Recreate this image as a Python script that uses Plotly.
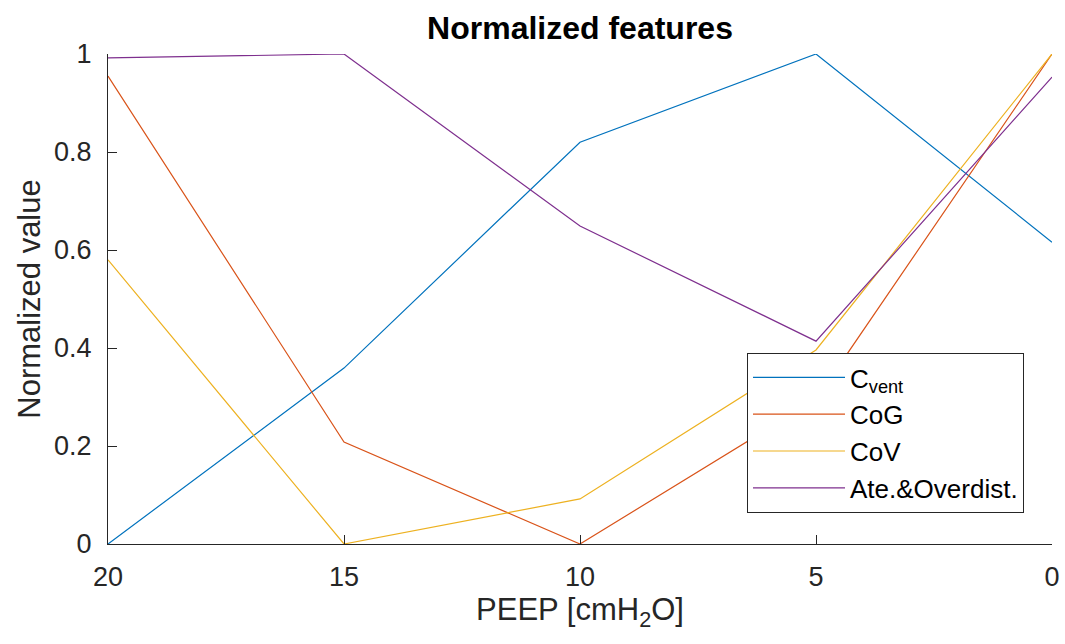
import plotly.graph_objects as go

peep = [20, 15, 10, 5, 0]
c_vent = [0.0, 0.359, 0.820, 1.0, 0.616]
cog = [0.955, 0.208, 0.0, 0.295, 1.0]
cov = [0.580, 0.0, 0.092, 0.396, 1.0]
ate_overdist = [0.992, 1.0, 0.649, 0.414, 0.953]

names = ["C<sub>vent</sub>", "CoG", "CoV", "Ate.&Overdist."]
colors = ["#0072BD", "#D95319", "#EDB120", "#7E2F8E"]
series = [c_vent, cog, cov, ate_overdist]

x_ticks = [20, 15, 10, 5, 0]
y_ticks = [0, 0.2, 0.4, 0.6, 0.8, 1]
y_tick_text = ["0", "0.2", "0.4", "0.6", "0.8", "1"]

fig = go.Figure()
for name, col, ys in zip(names, colors, series):
    fig.add_trace(go.Scatter(x=peep, y=ys, mode="lines", name=name,
                             line=dict(color=col, width=1.2)))

font_family = "Liberation Sans, Arial, Helvetica, sans-serif"
axis_common = dict(showline=True, linecolor="#262626", linewidth=1,
                   ticks="inside", ticklen=9, tickcolor="#262626",
                   showgrid=False, zeroline=False, mirror=False, automargin=False,
                   tickfont=dict(size=27, color="#262626", family=font_family))

fig.update_layout(
    width=1065, height=644,
    margin=dict(l=108, r=13, t=54, b=100),
    paper_bgcolor="white", plot_bgcolor="white",
    font=dict(family=font_family, color="#262626"),
    title=dict(text="<b>Normalized features</b>", x=(580 / 1065), xanchor="center",
               y=1 - 28 / 644, yanchor="middle",
               font=dict(size=32, color="black", family=font_family)),
    xaxis=dict(range=[20, 0], tickvals=x_ticks, ticktext=[str(v) for v in x_ticks],
               ticklabelstandoff=9,
               title=dict(text="PEEP [cmH<sub>2</sub>O]", font=dict(size=31), standoff=6),
               **axis_common),
    yaxis=dict(range=[0, 1], tickvals=y_ticks, ticktext=y_tick_text,
               ticklabelstandoff=10,
               title=dict(text="Normalized value", font=dict(size=31), standoff=4),
               **axis_common),
    legend=dict(x=(747 - 108) / 944, y=(544 - 353) / 490, xanchor="left", yanchor="top",
                bordercolor="#262626", borderwidth=1, bgcolor="white",
                font=dict(size=26, color="black"), itemwidth=92,
                tracegroupgap=0),
    showlegend=True,
)

fig.write_html("out.html")
